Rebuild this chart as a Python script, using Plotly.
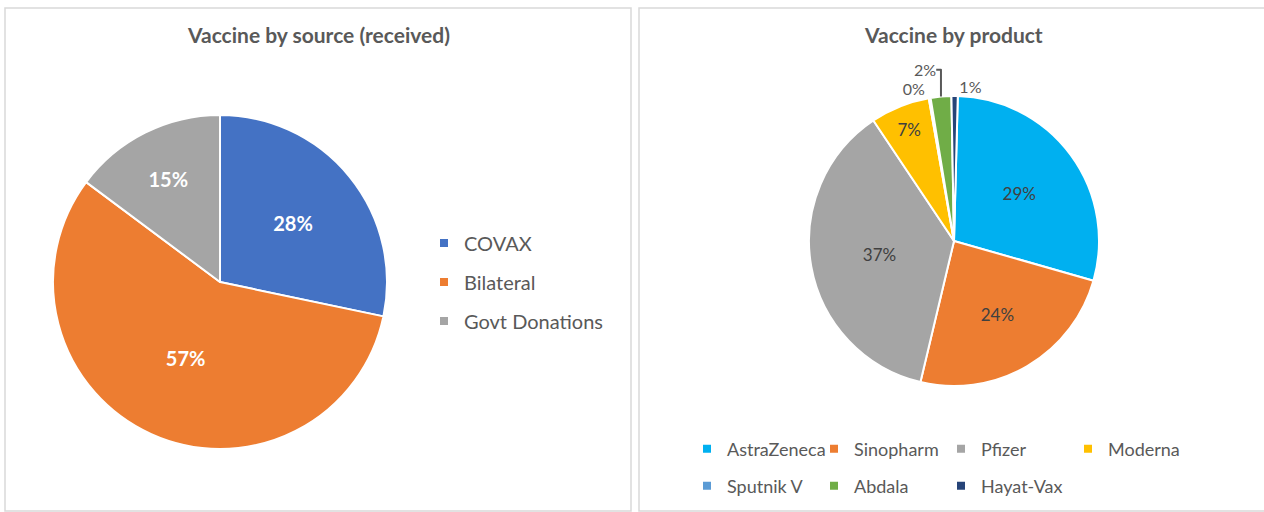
import plotly.graph_objects as go

W, H = 1264, 512

# ---- data ----
source_labels = ["COVAX", "Bilateral", "Govt Donations"]
source_share = [28.3, 56.9, 14.8]
source_colors = ["#4472C4", "#ED7D31", "#A5A5A5"]

product_labels = ["AstraZeneca", "Sinopharm", "Pfizer", "Moderna", "Sputnik V", "Abdala", "Hayat-Vax"]
product_share = [29.0, 24.3, 36.9, 6.6, 0.2, 2.3, 0.7]
product_colors = ["#00B0F0", "#ED7D31", "#A5A5A5", "#FFC000", "#5B9BD5", "#70AD47", "#264478"]
product_textpos = ["inside", "inside", "inside", "inside", "outside", "outside", "outside"]
product_legend_rows = ["legend2", "legend2", "legend2", "legend2", "legend3", "legend3", "legend3"]

FONT = "Lato"
GREY = "#595959"


def px_x(v):
    return v / W


def px_y(v):
    return 1 - v / H


fig = go.Figure()

fig.add_trace(go.Pie(
    labels=source_labels,
    values=source_share,
    sort=False,
    direction="clockwise",
    rotation=0,
    marker=dict(colors=source_colors, line=dict(color="white", width=2)),
    texttemplate="%{percent:.0%}",
    textposition="inside",
    insidetextorientation="horizontal",
    textfont=dict(family=FONT, size=20, color="white", weight="bold"),
    domain=dict(x=[px_x(53), px_x(387)], y=[px_y(449), px_y(115)]),
    showlegend=False,
    hoverinfo="label+percent",
))

fig.add_trace(go.Pie(
    labels=product_labels,
    values=product_share,
    sort=False,
    direction="clockwise",
    rotation=1.5,
    marker=dict(colors=product_colors, line=dict(color="white", width=2)),
    texttemplate="%{percent:.0%}",
    textposition=product_textpos,
    insidetextorientation="horizontal",
    insidetextfont=dict(family=FONT, size=17, color="#404040"),
    outsidetextfont=dict(family=FONT, size=16, color=GREY),
    domain=dict(x=[px_x(809), px_x(1099)], y=[px_y(386), px_y(96)]),
    showlegend=False,
    hoverinfo="label+percent",
))

# legend entries (square keys, like the original)
for name, col in zip(source_labels, source_colors):
    fig.add_trace(go.Scatter(
        x=[None], y=[None], mode="markers", name=name,
        marker=dict(symbol="square", size=8, color=col),
        legend="legend", legendgroup=name, hoverinfo="skip",
    ))
for name, col, lg in zip(product_labels, product_colors, product_legend_rows):
    fig.add_trace(go.Scatter(
        x=[None], y=[None], mode="markers", name=name,
        marker=dict(symbol="square", size=8, color=col),
        legend=lg, hoverinfo="skip",
    ))

fig.update_layout(
    width=W, height=H,
    margin=dict(l=0, r=0, t=0, b=0, autoexpand=False),
    paper_bgcolor="white",
    plot_bgcolor="rgba(0,0,0,0)",
    xaxis=dict(visible=False),
    yaxis=dict(visible=False),
    font=dict(family=FONT, color=GREY),
    legend=dict(
        x=px_x(424), y=px_y(223.5), xanchor="left", yanchor="top",
        orientation="v", tracegroupgap=10,
        font=dict(family=FONT, size=20, color=GREY),
        bgcolor="rgba(0,0,0,0)",
    ),
    legend2=dict(
        x=px_x(687), y=px_y(430.5), xanchor="left", yanchor="top",
        orientation="h", entrywidth=82,
        font=dict(family=FONT, size=18, color=GREY),
        bgcolor="rgba(0,0,0,0)",
    ),
    legend3=dict(
        x=px_x(687), y=px_y(467.5), xanchor="left", yanchor="top",
        orientation="h", entrywidth=82,
        font=dict(family=FONT, size=18, color=GREY),
        bgcolor="rgba(0,0,0,0)",
    ),
    shapes=[
        dict(type="rect", xref="paper", yref="paper",
             x0=px_x(5), x1=px_x(631), y0=px_y(511), y1=px_y(8),
             line=dict(color="#D9D9D9", width=1.5)),
        dict(type="rect", xref="paper", yref="paper",
             x0=px_x(639), x1=px_x(1275), y0=px_y(511), y1=px_y(8),
             line=dict(color="#D9D9D9", width=1.5)),
    ],
    annotations=[
        dict(text="<b>Vaccine by source (received)</b>", x=px_x(318), y=px_y(34),
             xref="paper", yref="paper", showarrow=False,
             xanchor="center", yanchor="middle",
             font=dict(family=FONT, size=21, color=GREY)),
        dict(text="<b>Vaccine by product</b>", x=px_x(953), y=px_y(34),
             xref="paper", yref="paper", showarrow=False,
             xanchor="center", yanchor="middle",
             font=dict(family=FONT, size=21, color=GREY)),
    ],
)

fig.write_html("out.html")
